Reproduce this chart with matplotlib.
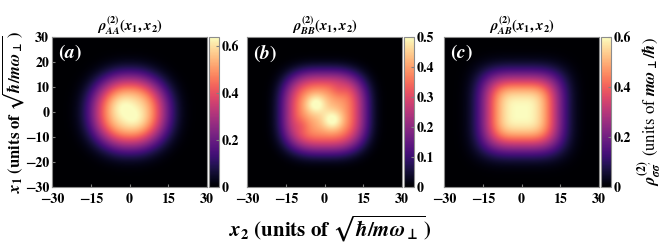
import numpy as np
import matplotlib
matplotlib.use('Agg')
import matplotlib.pyplot as plt

plt.rcParams['font.family'] = 'STIXGeneral'
plt.rcParams['font.weight'] = 'bold'
plt.rcParams['mathtext.fontset'] = 'custom'
plt.rcParams['mathtext.rm'] = 'STIXGeneral:bold'
plt.rcParams['mathtext.it'] = 'STIXGeneral:italic:bold'
plt.rcParams['mathtext.bf'] = 'STIXGeneral:bold'
plt.rcParams['mathtext.fallback'] = 'stix'

# ---- panel definitions -------------------------------------------------
titles = [r'$\rho^{(2)}_{AA}(x_1,x_2)$', r'$\rho^{(2)}_{BB}(x_1,x_2)$',
          r'$\rho^{(2)}_{AB}(x_1,x_2)$']
labels = ['$(a)$', '$(b)$', '$(c)$']
vmax = [0.64, 0.50, 0.60]
cb_ticks = [[0, 0.2, 0.4, 0.6], [0, 0.1, 0.2, 0.3, 0.4, 0.5], [0, 0.2, 0.4, 0.6]]
ticks = [-30, -15, 0, 15, 30]
yticks = [-30, -20, -10, 0, 10, 20, 30]

# envelope: amplitude, width, radial power, squareness (q-norm) per panel
env_amp = [0.60, 0.41, 0.60]
env_w = [14.6, 16.0, 15.0]
env_p = [3.0, 4.0, 3.0]
env_q = [2.2, 3.0, 3.6]
# bumps: (x2, x1, amplitude, sigma) per panel
bumps = [
    [(-2.7, 2.2, 0.04, 3.5), (2.0, -2.6, 0.04, 3.5)],
    [(-3.4, 3.2, 0.10, 3.0), (3.1, -3.2, 0.10, 3.0),
     (5.5, 9.0, -0.04, 2.5), (-9.0, -5.5, -0.04, 2.5)],
    [],
]

x = np.linspace(-30, 30, 301)
X2, X1 = np.meshgrid(x, x)


def density(i):
    q = env_q[i]
    r = (np.abs(X1) ** q + np.abs(X2) ** q) ** (1.0 / q)
    env = np.exp(-(r / env_w[i]) ** env_p[i])
    rho = env_amp[i] * env
    for (bx, by, ba, bs) in bumps[i]:
        rho = rho + ba * np.exp(-((X2 - bx) ** 2 + (X1 - by) ** 2) / (2 * bs ** 2)) * env
    return np.clip(rho, 0, None)


fig = plt.figure(figsize=(6.64, 2.5), dpi=100)
W, H = 664, 250
ax_left = [52, 247, 444]
ax_w = 155
cb_off = 2
cb_w = 10
top, bot = 37, 187

for i in range(3):
    ax = fig.add_axes([ax_left[i] / W, 1 - bot / H, ax_w / W, (bot - top) / H])
    im = ax.imshow(density(i), origin='lower', extent=[-30, 30, -30, 30],
                   cmap='magma', vmin=0, vmax=vmax[i], aspect='auto',
                   interpolation='bilinear')
    ax.set_xticks(ticks)
    ax.set_xticklabels([str(t).replace('-', '\u2212') for t in ticks])
    if i == 0:
        ax.set_yticks(yticks)
        ax.set_yticklabels([str(t).replace('-', '\u2212') for t in yticks])
    else:
        ax.set_yticks([])
    ax.tick_params(axis='x', direction='in', length=2, labelsize=10, pad=4, color='0.5')
    ax.tick_params(axis='y', direction='in', length=2, labelsize=10, pad=2, color='0.5')
    for s in ax.spines.values():
        s.set_color('0.55')
    ax.set_title(titles[i], fontsize=10.5, pad=3)
    ax.text(0.04, 0.96, labels[i], transform=ax.transAxes, color='white',
            fontsize=14, va='top', ha='left')

    cax = fig.add_axes([(ax_left[i] + ax_w + cb_off) / W, 1 - bot / H,
                        cb_w / W, (bot - top) / H])
    cb = fig.colorbar(im, cax=cax, ticks=cb_ticks[i])
    cb.ax.set_yticklabels([('%g' % t) for t in cb_ticks[i]])
    cb.ax.tick_params(direction='in', length=2, labelsize=10, pad=2, color='0.5')
    cb.outline.set_edgecolor('0.55')
    if i == 2:
        cb.set_label(r"$\rho^{(2)}_{\sigma\sigma'}$ (units of $m\omega_\bot/\hbar$)",
                     fontsize=12, labelpad=3)

fig.text(13 / W, 1 - 112 / H, r'$x_1$ (units of $\sqrt{\hbar/m\omega_\bot}$)',
         ha='center', va='center', rotation=90, fontsize=12)
fig.text(330 / W, 1 - 229 / H, r'$x_2$ (units of $\sqrt{\hbar/m\omega_\bot}$)',
         ha='center', va='center', fontsize=15)

fig.savefig('out.png', dpi=100)
